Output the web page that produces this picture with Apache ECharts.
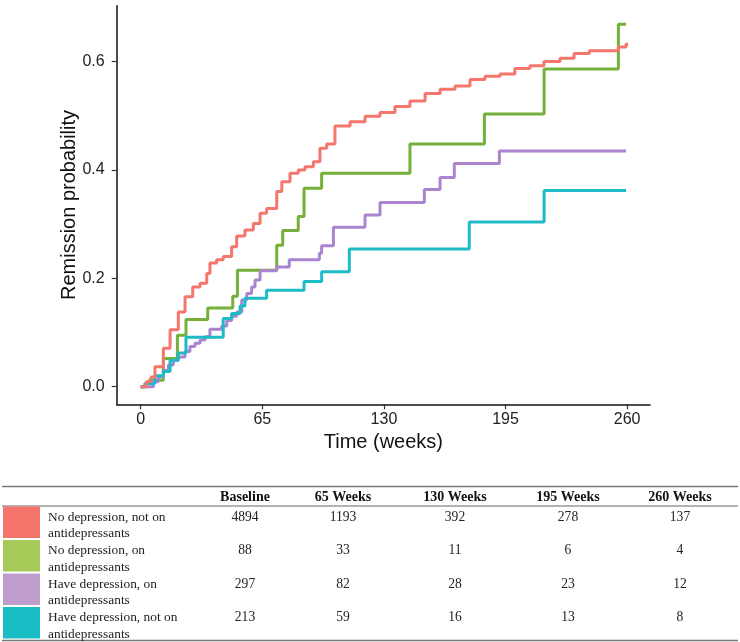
<!DOCTYPE html>
<html>
<head>
<meta charset="utf-8">
<script src="https://cdn.jsdelivr.net/npm/echarts@6/dist/echarts.min.js"></script>
<style>
  html, body { margin: 0; padding: 0; background: #fff; }
  #chart { width: 740px; height: 642px; }
</style>
</head>
<body>
<div id="chart"></div>
<script>
// step points: [week, remission probability]
const noDepNoAD = [
  [0, 0], [3, 0.009], [5.5, 0.018], [7.6, 0.037], [12.1, 0.071], [15.7, 0.105],
  [20.1, 0.138], [23.7, 0.166], [27.8, 0.184], [31.7, 0.191], [35.3, 0.209],
  [37, 0.228], [40.6, 0.234], [44.1, 0.240], [48.6, 0.258], [51.3, 0.278],
  [55.7, 0.289], [60.2, 0.301], [63.8, 0.320], [67.3, 0.329], [72.7, 0.360],
  [75.4, 0.378], [79.8, 0.394], [84.2, 0.400], [87.8, 0.406], [92.3, 0.415],
  [95.8, 0.440], [99.4, 0.448], [103.8, 0.481], [111.9, 0.489], [119.9, 0.499],
  [127.9, 0.506], [135.9, 0.517], [143.9, 0.527], [152, 0.541], [160, 0.549],
  [168, 0.555], [176, 0.567], [184, 0.573], [192, 0.577], [200, 0.587],
  [208, 0.592], [215.5, 0.600], [224.1, 0.606], [231.6, 0.615], [239.8, 0.620],
  [255.3, 0.627], [259.4, 0.632], [260.5, 0.632]
];
const noDepAD = [
  [0, 0], [2.3, 0.006], [4.5, 0.012], [12.1, 0.052], [19.6, 0.095], [24.2, 0.124],
  [35.8, 0.145], [49.2, 0.167], [51.7, 0.215], [72.7, 0.261], [75.9, 0.288],
  [84.2, 0.314], [87.3, 0.366], [96.7, 0.394], [143.9, 0.448], [183.7, 0.503],
  [215.6, 0.586], [255.3, 0.669], [259.4, 0.669]
];
const depAD = [
  [0, 0], [6.8, 0.009], [9.4, 0.018], [12.1, 0.030], [14.8, 0.040], [17.4, 0.049],
  [20.1, 0.055], [23.7, 0.065], [26.3, 0.074], [29, 0.080], [31.7, 0.086],
  [34.4, 0.092], [37, 0.106], [43.3, 0.112], [46, 0.122], [48.6, 0.130],
  [51.3, 0.138], [54, 0.160], [56.7, 0.172], [59.3, 0.184], [61.1, 0.197],
  [63.8, 0.214], [72.7, 0.221], [79.4, 0.234], [95.5, 0.246], [96.7, 0.260],
  [103, 0.294], [119.9, 0.317], [127.9, 0.340], [151.6, 0.364], [160, 0.386],
  [167.6, 0.412], [191.7, 0.435], [259.4, 0.435]
];
const depNoAD = [
  [0, 0], [2.3, 0.006], [7.6, 0.020], [12.1, 0.028], [15.7, 0.049], [20.1, 0.062],
  [24.2, 0.091], [44.1, 0.126], [48.6, 0.135], [53.1, 0.149], [55.7, 0.163],
  [67.3, 0.178], [87.3, 0.194], [96.7, 0.212], [111.5, 0.254], [175.6, 0.304],
  [215.6, 0.362], [259.4, 0.362]
];

const xTicks = [0, 65, 130, 195, 260];
const yTicks = [0, 0.2, 0.4, 0.6];

// number at risk table
const groupNames = [
  'No depression, not on\nantidepressants',
  'No depression, on\nantidepressants',
  'Have depression, on\nantidepressants',
  'Have depression, not on\nantidepressants'
];
const riskHeaders = ['Baseline', '65 Weeks', '130 Weeks', '195 Weeks', '260 Weeks'];
const atRisk = [
  [4894, 1193, 392, 278, 137],
  [88, 33, 11, 6, 4],
  [297, 82, 28, 23, 12],
  [213, 59, 16, 13, 8]
];

const lineColors = ['#F4766C', '#74B03A', '#AB84CF', '#1DBBC6'];
const swatchColors = ['#F4736B', '#A6C957', '#BE9DCC', '#1ABCC4'];

const chart = echarts.init(document.getElementById('chart'));

const colX = [245, 343, 455, 568, 680];
const rowTop = [506.5, 540, 573.5, 607];
const rowH = 33;
const serif = '"Liberation Serif", "Times New Roman", serif';

let graphics = [];
graphics.push({ type: 'line', shape: { x1: 2, y1: 486.5, x2: 738, y2: 486.5 }, style: { stroke: '#777', lineWidth: 1.5 } });
graphics.push({ type: 'line', shape: { x1: 2, y1: 506, x2: 738, y2: 506 }, style: { stroke: '#999', lineWidth: 1.5 } });
graphics.push({ type: 'line', shape: { x1: 2, y1: 640.5, x2: 738, y2: 640.5 }, style: { stroke: '#777', lineWidth: 1.5 } });
riskHeaders.forEach((h, i) => {
  graphics.push({
    type: 'text', x: colX[i], y: 497,
    style: { text: h, font: 'bold 14px ' + serif, fill: '#111', align: 'center', verticalAlign: 'middle' }
  });
});
groupNames.forEach((g, r) => {
  graphics.push({
    type: 'rect', shape: { x: 3, y: rowTop[r], width: 37, height: rowH - 1.5 },
    style: { fill: swatchColors[r] }
  });
  graphics.push({
    type: 'text', x: 48, y: rowTop[r] + 2.5,
    style: { text: g, font: '13.4px ' + serif, fill: '#222', lineHeight: 16.5, align: 'left', verticalAlign: 'top' }
  });
  atRisk[r].forEach((n, c) => {
    graphics.push({
      type: 'text', x: colX[c], y: rowTop[r] + 10.5,
      style: { text: String(n), font: '13.6px ' + serif, fill: '#222', align: 'center', verticalAlign: 'middle' }
    });
  });
});

const series = [noDepNoAD, noDepAD, depAD, depNoAD].map((d, i) => ({
  type: 'line',
  step: 'end',
  data: d,
  showSymbol: false,
  lineStyle: { color: lineColors[i], width: 3 },
  itemStyle: { color: lineColors[i] },
  z: i === 0 ? 4 : 3
}));

chart.setOption({
  animation: false,
  grid: { left: 116.7, right: 90, top: 5.7, bottom: 237.7 },
  xAxis: {
    type: 'value',
    min: -12.83,
    max: 272.2,
    name: 'Time (weeks)',
    nameLocation: 'middle',
    nameGap: 26,
    nameTextStyle: { fontFamily: 'Liberation Sans', fontSize: 20, color: '#111' },
    splitLine: { show: false },
    axisLine: { show: true, onZero: false, lineStyle: { color: '#111', width: 1.5 } },
    axisTick: { show: true, length: 5, customValues: xTicks, lineStyle: { color: '#333', width: 1.2 } },
    axisLabel: { customValues: xTicks, fontFamily: 'Liberation Sans', fontSize: 16, color: '#222', margin: 7 }
  },
  yAxis: {
    type: 'value',
    min: -0.0325,
    max: 0.703,
    name: 'Remission probability',
    nameLocation: 'middle',
    nameGap: 37,
    nameMoveOverlap: false,
    nameTextStyle: { fontFamily: 'Liberation Sans', fontSize: 20, color: '#111' },
    splitLine: { show: false },
    axisLine: { show: true, onZero: false, lineStyle: { color: '#111', width: 1.5 } },
    axisTick: { show: true, length: 5, customValues: yTicks, lineStyle: { color: '#333', width: 1.2 } },
    axisLabel: {
      customValues: yTicks, fontFamily: 'Liberation Sans', fontSize: 16, color: '#222', margin: 12,
      formatter: v => v.toFixed(1)
    }
  },
  series: series,
  graphic: graphics
});
</script>
</body>
</html>
